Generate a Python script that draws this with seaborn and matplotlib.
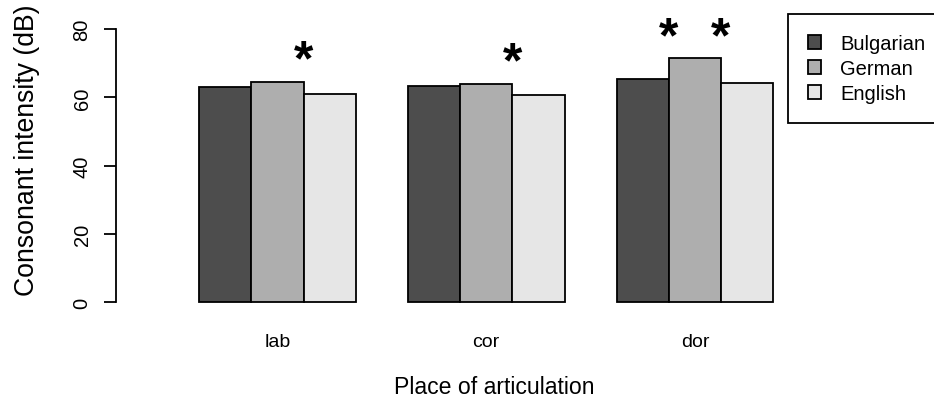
import matplotlib
matplotlib.use("Agg")
import matplotlib.pyplot as plt
from matplotlib.patches import Patch
import seaborn as sns
import pandas as pd

places = ["lab", "cor", "dor"]
languages = ["Bulgarian", "German", "English"]
bulgarian = [62.9, 63.4, 65.4]
german = [64.4, 64.0, 71.4]
english = [61.0, 60.7, 64.2]
colors = ["#4D4D4D", "#AEAEAE", "#E6E6E6"]
yticks = [0, 20, 40, 60, 80]
star_x = [0.125, 1.125, 1.875, 2.125]
star_y = [70.6, 70.1, 77.3, 77.3]

rows = []
for lang, vals in zip(languages, [bulgarian, german, english]):
    for p, v in zip(places, vals):
        rows.append({"place": p, "language": lang, "intensity": v})
df = pd.DataFrame(rows)

sns.set_style("white")
plt.rcParams["font.family"] = ["Liberation Sans", "DejaVu Sans"]
plt.rcParams["text.color"] = "black"
plt.rcParams["axes.labelcolor"] = "black"
plt.rcParams["xtick.color"] = "black"
plt.rcParams["ytick.color"] = "black"

W, H = 934, 406
fig = plt.figure(figsize=(W / 100, H / 100), dpi=100)
L, R, B, T = 116, 872, 313, 15
ax = fig.add_axes([L / W, (H - B) / H, (R - L) / W, (B - T) / H])
ax.set_facecolor("white")

sns.barplot(data=df, x="place", y="intensity", hue="language",
            order=places, hue_order=languages, palette=colors,
            width=0.75, gap=0, edgecolor="black", linewidth=1.3,
            saturation=1, errorbar=None, legend=False, ax=ax)

ax.set_xlim(-0.7737, 2.848)
ax.set_ylim(-2.84, 84.4)

for s in ["top", "right", "bottom"]:
    ax.spines[s].set_visible(False)
ax.spines["left"].set_bounds(0, 80)
ax.spines["left"].set_linewidth(1.3)
ax.spines["left"].set_color("black")

ax.set_yticks(yticks)
ax.set_yticklabels([str(v) for v in yticks])
ax.tick_params(axis="y", left=True, length=8.6, width=1.3, color="black",
               labelcolor="black", pad=9.0, labelsize=14.5, labelrotation=90)
for lbl in ax.get_yticklabels():
    lbl.set_va("center")
ax.tick_params(axis="x", length=0, pad=15, labelsize=14, labelcolor="black")

ax.set_xlabel("Place of articulation", fontsize=16.6, color="black")
ax.xaxis.set_label_coords(0.5, -0.210)
ax.set_ylabel("Consonant intensity (dB)", fontsize=19.2, color="black")
ax.yaxis.set_label_coords(-0.1003, 0.547)

for x, y in zip(star_x, star_y):
    ax.text(x, y, "*", ha="center", va="center", fontsize=36,
            fontweight="bold", color="black", clip_on=False)

handles = [Patch(facecolor=c, edgecolor="black", linewidth=1.3) for c in colors]
leg = ax.legend(handles=handles, labels=languages, loc="upper left",
                bbox_to_anchor=(788 / W, (H - 15) / H),
                bbox_transform=fig.transFigure, frameon=True, fancybox=False,
                edgecolor="black", framealpha=1, borderaxespad=0,
                fontsize=14.5, handlelength=0.65, handleheight=0.65,
                handletextpad=0.95, borderpad=1.0, labelspacing=0.3)
leg.get_frame().set_linewidth(1.3)
for t in leg.get_texts():
    t.set_color("black")

fig.savefig("out.png", dpi=100, facecolor="white")
